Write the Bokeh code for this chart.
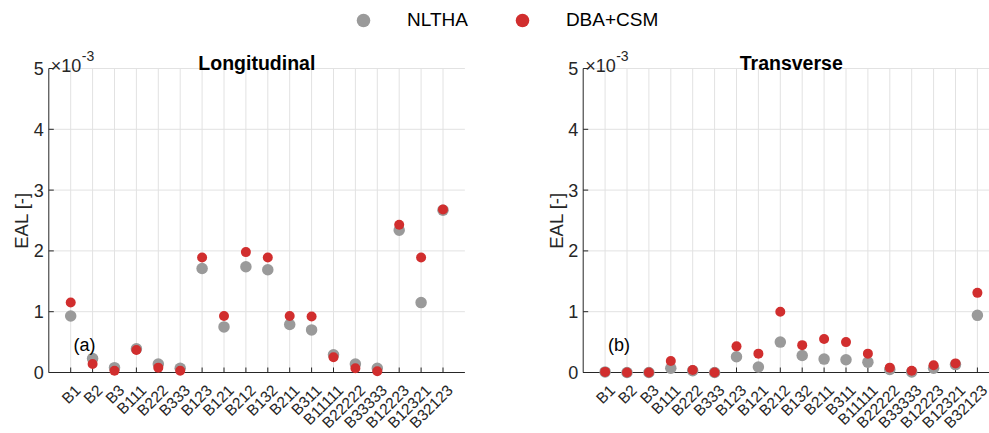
import math
from bokeh.plotting import figure
from bokeh.models import Range1d, Label, Legend, LegendItem
from bokeh.core.properties import value
from bokeh.layouts import column, row
from bokeh.embed import file_html
from bokeh.resources import INLINE

# ---- data (EAL values in units of 1e-3) ----
categories = ["B1", "B2", "B3", "B111", "B222", "B333", "B123", "B121", "B212",
              "B132", "B211", "B311", "B11111", "B22222", "B33333", "B12223",
              "B12321", "B32123"]
long_nltha = [0.93, 0.23, 0.08, 0.39, 0.14, 0.07, 1.71, 0.75, 1.74,
              1.69, 0.79, 0.70, 0.29, 0.14, 0.07, 2.34, 1.15, 2.67]
long_dba = [1.15, 0.14, 0.03, 0.37, 0.08, 0.03, 1.89, 0.93, 1.98,
            1.89, 0.93, 0.92, 0.25, 0.07, 0.02, 2.43, 1.89, 2.68]
trans_nltha = [0.01, 0.00, 0.00, 0.07, 0.03, 0.00, 0.26, 0.09, 0.50,
               0.28, 0.22, 0.21, 0.17, 0.05, 0.01, 0.07, 0.13, 0.94]
trans_dba = [0.01, 0.00, 0.00, 0.19, 0.04, 0.00, 0.43, 0.31, 1.00,
             0.45, 0.55, 0.50, 0.31, 0.08, 0.03, 0.12, 0.15, 1.31]
y_ticks = [0, 1, 2, 3, 4, 5]
series_names = ["NLTHA", "DBA+CSM"]

FONT = "Liberation Sans"
TXT = "#262626"
GRAY = "#9a9a9a"
RED = "#d12e2e"
GRID = "#e2e2e2"

PX_X = 21.9    # pixels per category step
PX_Y = 60.8    # pixels per 1e-3
FIG_H = 393
ZERO_FROM_BOTTOM = 61


def make_panel(title, tag, nltha, dba, width, ax_left, clip_right):
    n = len(categories)
    xs = list(range(1, n + 1))
    x_lo = -ax_left / PX_X
    x_hi = (width - ax_left) / PX_X
    x_end = (n + 1) if not clip_right else x_hi
    y0, ytop = y_ticks[0], y_ticks[-1]
    p = figure(width=width, height=FIG_H, x_range=Range1d(x_lo, x_hi),
               y_range=Range1d(-ZERO_FROM_BOTTOM / PX_Y, (FIG_H - ZERO_FROM_BOTTOM) / PX_Y),
               output_backend="svg", toolbar_location=None, min_border=0,
               x_axis_location=None, y_axis_location=None)
    p.outline_line_color = None
    p.grid.visible = False

    # grid
    p.segment(x0=xs, y0=[y0] * n, x1=xs, y1=[ytop] * n,
              line_color=GRID, line_width=1)
    p.segment(x0=[0] * len(y_ticks), y0=y_ticks, x1=[x_end] * len(y_ticks),
              y1=y_ticks, line_color=GRID, line_width=1)
    # axes lines and inward ticks
    p.segment(x0=[0, 0], y0=[y0, y0], x1=[x_end, 0], y1=[y0, ytop],
              line_color=TXT, line_width=1)
    p.ray(x=xs, y=[y0] * n, length=5, length_units="screen", angle=math.pi / 2,
          line_color=TXT, line_width=1)
    p.ray(x=[0] * len(y_ticks), y=y_ticks, length=5, length_units="screen", angle=0,
          line_color=TXT, line_width=1)

    # data
    p.scatter(xs, nltha, size=11.5, fill_color=GRAY, line_color=None)
    p.scatter(xs, dba, size=10, fill_color=RED, line_color=None)

    # tick labels
    p.text(x=xs, y=[y0] * n, text=categories, angle=math.pi / 4,
           text_align="right", text_baseline="middle", x_offset=7, y_offset=15,
           text_font=value(FONT), text_font_size=value("15.5px"), text_color=TXT)
    p.text(x=[0] * len(y_ticks), y=y_ticks, text=[str(t) for t in y_ticks],
           text_align="right", text_baseline="middle", x_offset=-5,
           text_font=value(FONT), text_font_size=value("18px"), text_color=TXT)

    # axis label, title, exponent, panel tag
    p.add_layout(Label(x=0, y=(y0 + ytop) / 2, x_offset=-27, angle=math.pi / 2,
                       text="EAL [-]", text_align="center", text_baseline="middle",
                       text_font=FONT, text_font_size="18.5px", text_color=TXT))
    p.add_layout(Label(x=(n + 1) / 2, y=ytop, y_offset=6, text=title,
                       text_align="center", text_baseline="alphabetic",
                       text_font=FONT, text_font_size="19.5px",
                       text_font_style="bold", text_color="black"))
    p.add_layout(Label(x=0, y=ytop, x_offset=2, y_offset=3, text="\u00d710",
                       text_baseline="alphabetic", text_font=FONT,
                       text_font_size="18px", text_color=TXT))
    p.add_layout(Label(x=0, y=ytop, x_offset=33, y_offset=13, text="-3",
                       text_baseline="alphabetic", text_font=FONT,
                       text_font_size="14px", text_color=TXT))
    p.add_layout(Label(x=1.13, y=0.45, text=tag, text_baseline="middle",
                       text_font=FONT, text_font_size="18px", text_color="black"))
    return p


p1 = make_panel("Longitudinal", "(a)", long_nltha, long_dba, 543, 48.3, False)
p2 = make_panel("Transverse", "(b)", trans_nltha, trans_dba, 446, 39.7, True)

lf = figure(width=989, height=40, x_range=Range1d(0, 1), y_range=Range1d(0, 1),
            output_backend="svg", toolbar_location=None, min_border=0,
            x_axis_location=None, y_axis_location=None)
lf.grid.visible = False
lf.outline_line_color = None
r1 = lf.scatter(x=[float("nan")], y=[float("nan")], fill_color=GRAY, line_color=None)
r2 = lf.scatter(x=[float("nan")], y=[float("nan")], fill_color=RED, line_color=None)
legend = Legend(items=[LegendItem(label=series_names[0], renderers=[r1]),
                       LegendItem(label=series_names[1], renderers=[r2])],
                orientation="horizontal", location=(346, 3),
                glyph_width=34, glyph_height=34, label_standoff=27, spacing=37,
                padding=0, margin=0, border_line_color=None,
                background_fill_alpha=0, label_text_font=FONT,
                label_text_font_size="19px", label_text_color="black",
                label_text_baseline="middle")
lf.add_layout(legend)

layout = column(lf, row(p1, p2))
open("out.html", "w").write(file_html(layout, INLINE))
